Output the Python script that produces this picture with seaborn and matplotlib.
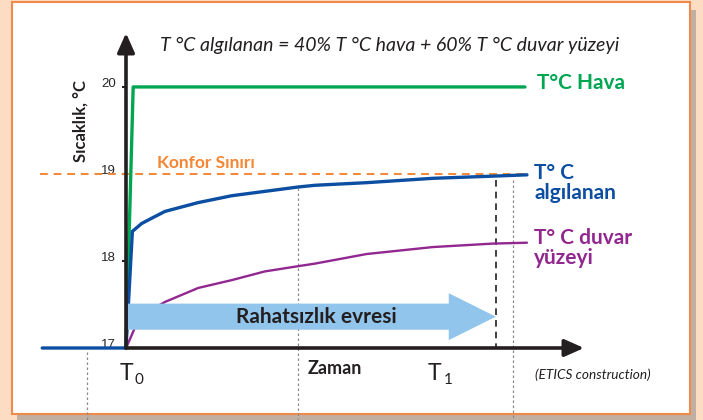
import numpy as np
import pandas as pd
import seaborn as sns
from matplotlib import pyplot as plt
from matplotlib.patches import Rectangle
from matplotlib.transforms import ScaledTranslation

# time axis: T0 = 0, series end = 10 (arbitrary units); temperature in °C
t_air = [0.0, 0.18, 10.0]
temp_air = [17.0, 20.0, 20.0]

t_felt = [-2.1, 0.0, 0.16, 0.39, 0.68, 0.98, 1.80, 2.65, 3.48, 4.31, 4.74, 6.03, 7.69, 9.2, 10.05]
temp_felt = [17.0, 17.0, 18.34, 18.43, 18.50, 18.57, 18.67, 18.75, 18.80, 18.85, 18.87, 18.90, 18.95, 18.975, 18.99]

t_wall = [0.0, 0.03, 0.23, 0.56, 0.98, 1.81, 2.65, 3.48, 4.31, 4.74, 6.03, 7.69, 9.2, 10.05]
temp_wall = [17.0, 17.03, 17.24, 17.42, 17.53, 17.69, 17.78, 17.88, 17.94, 17.97, 18.08, 18.16, 18.20, 18.21]

comfort_limit = 19.0
y_ticks = [17, 18, 19, 20]
t1 = 9.27

GREEN = '#00A651'
BLUE = '#0B4EA2'
PURPLE = '#92278F'
ORANGE = '#F58634'
DARK = '#231F20'

sns.set_style('white')
plt.rcParams['font.family'] = ['Lato', 'DejaVu Sans']

fig = plt.figure(figsize=(7.03, 4.2), dpi=100)
fig.patch.set_facecolor('#FDDCC4')

# shadow + white panel with orange border
fig.patches.append(Rectangle((17 / 703, 0 / 420), 679 / 703, 410 / 420, transform=fig.transFigure,
                             fc='#A89C94', ec='none', alpha=0.7, zorder=-2))
fig.patches.append(Rectangle((12 / 703, 6 / 420), 678 / 703, 412 / 420, transform=fig.transFigure,
                             fc='white', ec='#F08A4B', lw=1.5, zorder=-1))

ax = fig.add_axes([126 / 703, 72 / 420, 458 / 703, 315 / 420])
ax.set_facecolor('none')
ax.set_xlim(0, 11.48)
ax.set_ylim(17, 20.62)

sns.lineplot(x=t_air, y=temp_air, ax=ax, color=GREEN, lw=2.4, estimator=None, sort=False, clip_on=False, zorder=4)
sns.lineplot(x=t_felt, y=temp_felt, ax=ax, color=BLUE, lw=2.4, estimator=None, sort=False, clip_on=False, zorder=4)
sns.lineplot(x=t_wall, y=temp_wall, ax=ax, color=PURPLE, lw=1.7, estimator=None, sort=False, clip_on=False, zorder=2)

# comfort limit
ax.plot([-2.15, 10.0], [comfort_limit, comfort_limit], color=ORANGE, lw=1.4,
        linestyle=(0, (4, 3)), clip_on=False, zorder=3)

# guide lines
for x0, y0 in [(-0.98, 16.95), (4.31, 18.84), (9.70, 18.93)]:
    ax.plot([x0, x0], [y0, 16.1], color='#8A8A8A', lw=0.9, linestyle=(0, (2, 2)), clip_on=False, zorder=1)
ax.plot([t1, t1], [18.93, 17.0], color=DARK, lw=1.2, linestyle=(0, (4, 3)), clip_on=False, zorder=1)

# discomfort phase arrow
ax.arrow(0.05, 17.36, t1 - 0.05, 0, width=0.30, head_width=0.54, head_length=1.18,
         length_includes_head=True, fc='#92C5EB', ec='none', zorder=5)
ax.text(4.76, 17.36, 'Rahatsızlık evresi', ha='center', va='center', fontsize=15,
        fontweight='bold', color=DARK, zorder=6)

# axes with arrow heads
sns.despine(ax=ax, left=True, bottom=True)
arrow_kw = dict(arrowstyle='-|>,head_length=0.9,head_width=0.4', lw=2.6, color=DARK,
                shrinkA=0, shrinkB=0, mutation_scale=13)
ax.annotate('', xy=(0, 1), xytext=(0, 0), xycoords='axes fraction', arrowprops=arrow_kw, zorder=7)
ax.annotate('', xy=(1, 0), xytext=(0, 0), xycoords='axes fraction', arrowprops=arrow_kw, zorder=7)

ax.set_xticks([])
ax.set_yticks(y_ticks)
ax.set_yticklabels([str(v) for v in y_ticks], family='Liberation Sans')
ax.tick_params(axis='y', length=3, width=1.5, color=DARK, pad=4, labelsize=9.5, left=True)
for lab in ax.get_yticklabels():
    lab.set_transform(lab.get_transform() + ScaledTranslation(0, 3 / 72, fig.dpi_scale_trans))

# texts
ax.text(6.62, 20.48, 'T °C algılanan = 40% T °C hava + 60% T °C duvar yüzeyi', ha='center', va='center',
        fontsize=14, style='italic', color=DARK)
ax.text(-1.15, 19.61, 'Sıcaklık, °C', rotation=90, ha='center', va='center', fontsize=12,
        fontweight='bold', color=DARK)
ax.text(10.3, 20.05, 'T°C Hava', ha='left', va='center', fontsize=15, fontweight='bold', color=GREEN)
ax.text(10.23, 18.90, 'T° C\nalgılanan', ha='left', va='center', fontsize=15, fontweight='bold',
        color=BLUE, linespacing=1.0)
ax.text(10.23, 18.15, 'T° C duvar\nyüzeyi', ha='left', va='center', fontsize=15, fontweight='bold',
        color=PURPLE, linespacing=1.0)
ax.text(0.78, 19.13, 'Konfor Sınırı', ha='left', va='center', fontsize=12.5, fontweight='bold', color=ORANGE)
ax.text(5.24, 16.77, 'Zaman', ha='center', va='center', fontsize=13, fontweight='bold', color=DARK)
# T0 / T1 with subscripts
ax.text(-0.17, 16.632, 'T', ha='left', va='baseline', fontsize=16.5, color=DARK)
ax.text(0.22, 16.586, '0', ha='left', va='baseline', fontsize=11, color=DARK)
ax.text(7.55, 16.632, 'T', ha='left', va='baseline', fontsize=16.5, color=DARK)
ax.text(7.96, 16.586, '1', ha='left', va='baseline', fontsize=11, color=DARK)
ax.text(10.25, 16.69, '(ETICS construction)', ha='left', va='center', fontsize=9.8, style='italic', color=DARK)

fig.savefig('out.png', dpi=100, facecolor=fig.get_facecolor())
